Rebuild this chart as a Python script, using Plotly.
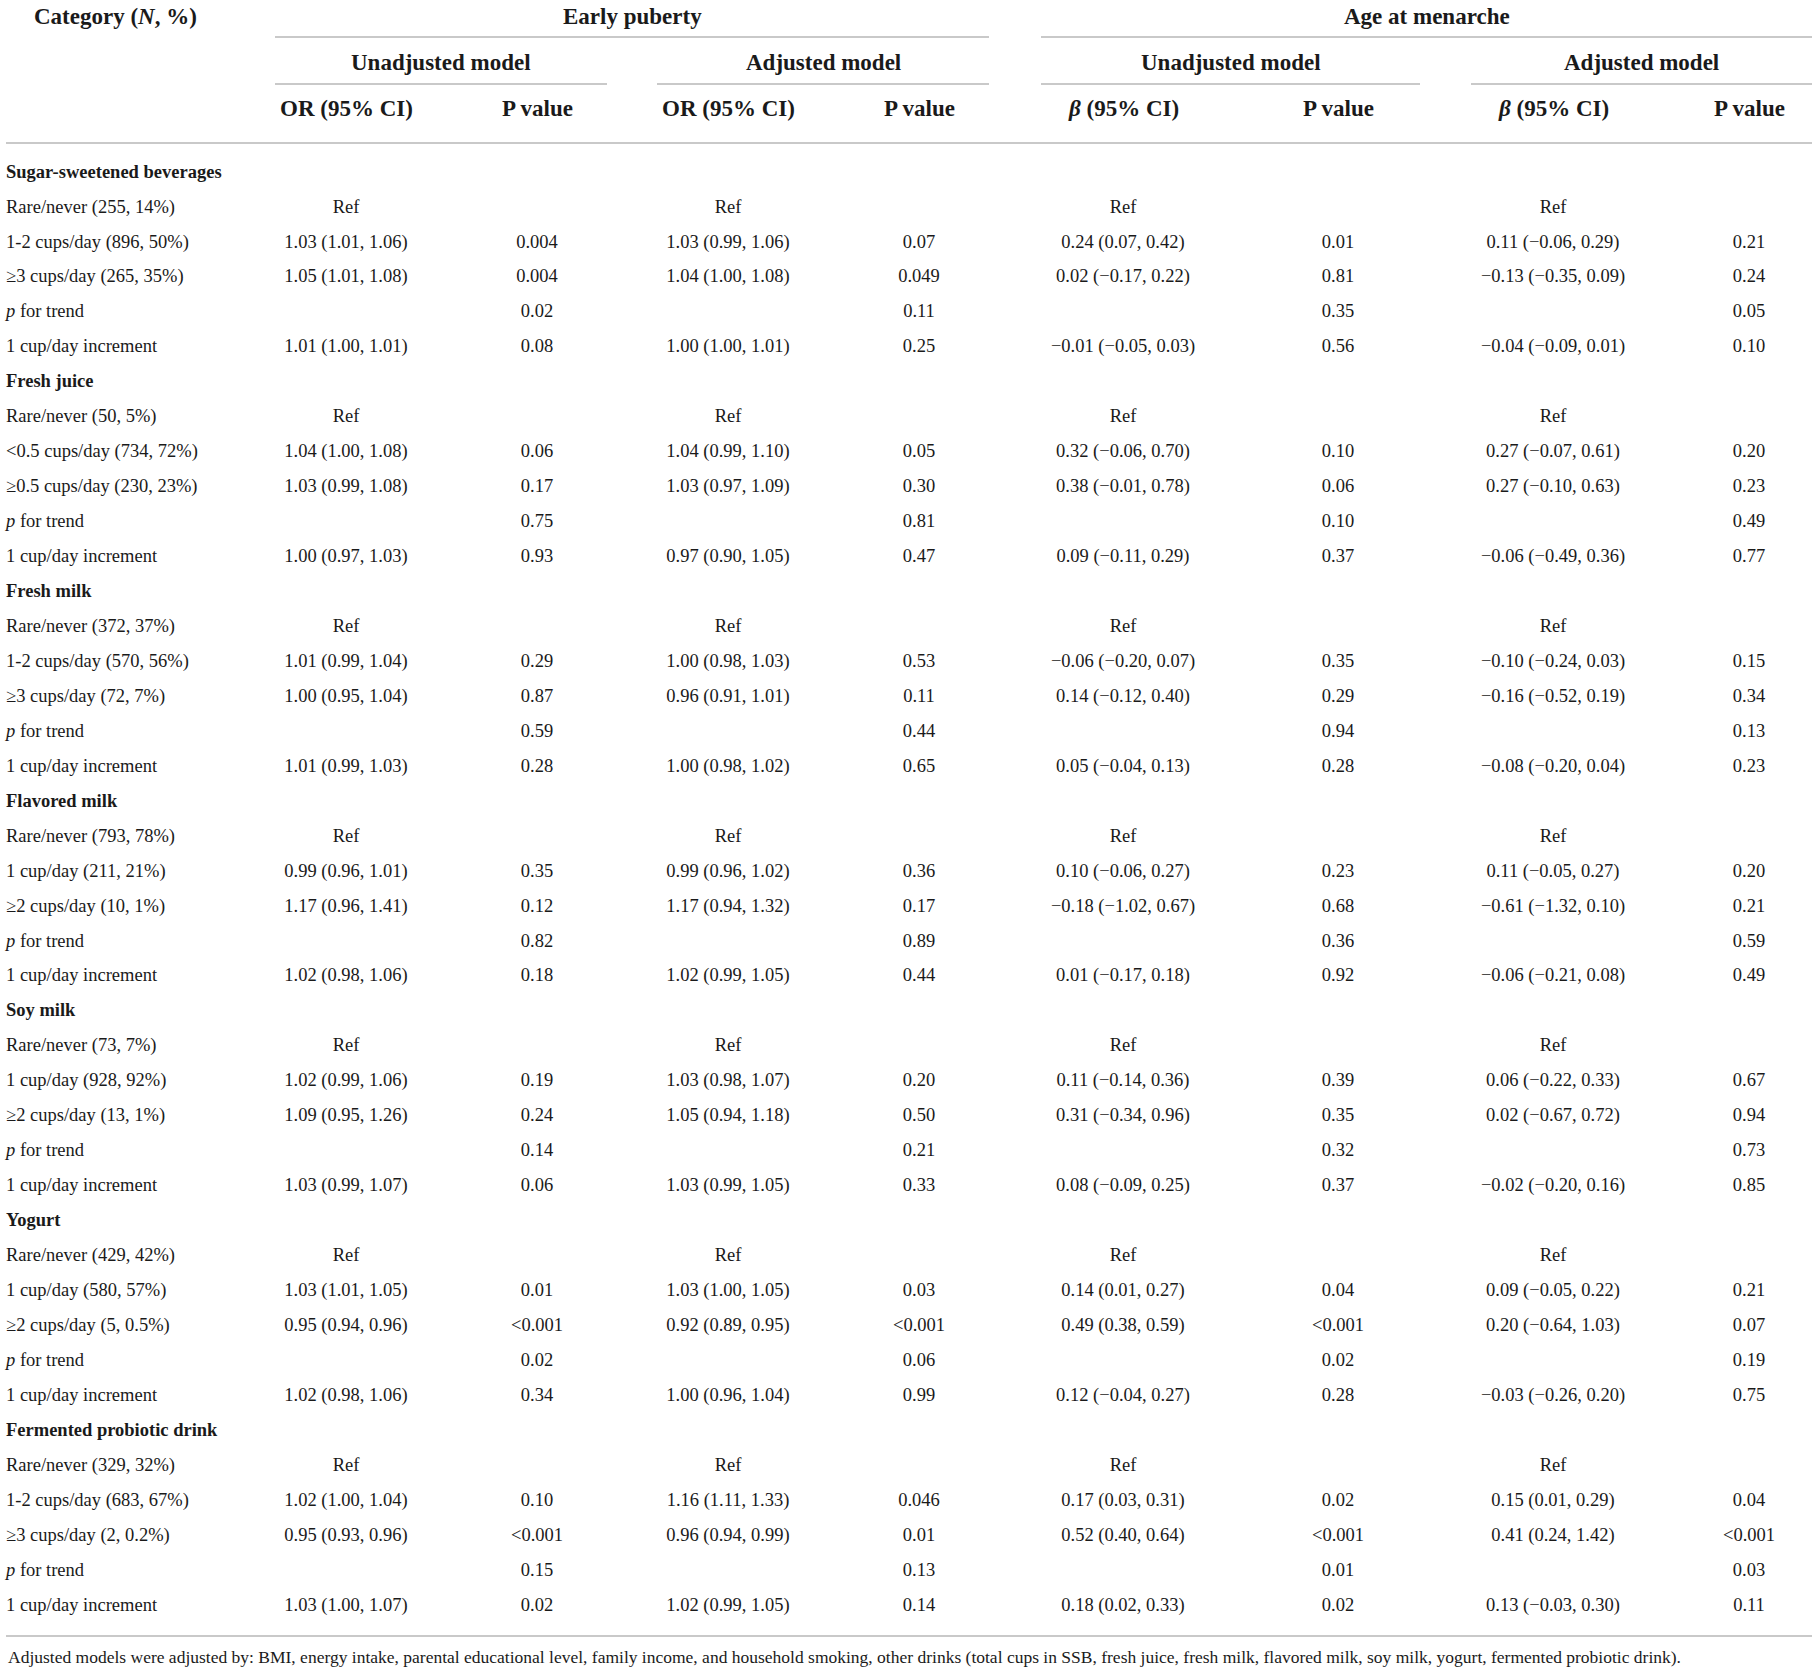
import plotly.graph_objects as go

# ---- table content -------------------------------------------------------
categories = [
    "Sugar-sweetened beverages", "Fresh juice", "Fresh milk", "Flavored milk",
    "Soy milk", "Yogurt", "Fermented probiotic drink",
]

row_labels = [
    "Sugar-sweetened beverages", "Rare/never (255, 14%)", "1-2 cups/day (896, 50%)",
    "≥3 cups/day (265, 35%)", "<i>p</i> for trend", "1 cup/day increment",
    "Fresh juice", "Rare/never (50, 5%)", "<0.5 cups/day (734, 72%)",
    "≥0.5 cups/day (230, 23%)", "<i>p</i> for trend", "1 cup/day increment",
    "Fresh milk", "Rare/never (372, 37%)", "1-2 cups/day (570, 56%)",
    "≥3 cups/day (72, 7%)", "<i>p</i> for trend", "1 cup/day increment",
    "Flavored milk", "Rare/never (793, 78%)", "1 cup/day (211, 21%)",
    "≥2 cups/day (10, 1%)", "<i>p</i> for trend", "1 cup/day increment",
    "Soy milk", "Rare/never (73, 7%)", "1 cup/day (928, 92%)",
    "≥2 cups/day (13, 1%)", "<i>p</i> for trend", "1 cup/day increment",
    "Yogurt", "Rare/never (429, 42%)", "1 cup/day (580, 57%)",
    "≥2 cups/day (5, 0.5%)", "<i>p</i> for trend", "1 cup/day increment",
    "Fermented probiotic drink", "Rare/never (329, 32%)", "1-2 cups/day (683, 67%)",
    "≥3 cups/day (2, 0.2%)", "<i>p</i> for trend", "1 cup/day increment",
]

or_unadj = [
    "", "Ref", "1.03 (1.01, 1.06)", "1.05 (1.01, 1.08)", "", "1.01 (1.00, 1.01)",
    "", "Ref", "1.04 (1.00, 1.08)", "1.03 (0.99, 1.08)", "", "1.00 (0.97, 1.03)",
    "", "Ref", "1.01 (0.99, 1.04)", "1.00 (0.95, 1.04)", "", "1.01 (0.99, 1.03)",
    "", "Ref", "0.99 (0.96, 1.01)", "1.17 (0.96, 1.41)", "", "1.02 (0.98, 1.06)",
    "", "Ref", "1.02 (0.99, 1.06)", "1.09 (0.95, 1.26)", "", "1.03 (0.99, 1.07)",
    "", "Ref", "1.03 (1.01, 1.05)", "0.95 (0.94, 0.96)", "", "1.02 (0.98, 1.06)",
    "", "Ref", "1.02 (1.00, 1.04)", "0.95 (0.93, 0.96)", "", "1.03 (1.00, 1.07)",
]
p_or_unadj = [
    "", "", "0.004", "0.004", "0.02", "0.08",
    "", "", "0.06", "0.17", "0.75", "0.93",
    "", "", "0.29", "0.87", "0.59", "0.28",
    "", "", "0.35", "0.12", "0.82", "0.18",
    "", "", "0.19", "0.24", "0.14", "0.06",
    "", "", "0.01", "<0.001", "0.02", "0.34",
    "", "", "0.10", "<0.001", "0.15", "0.02",
]
or_adj = [
    "", "Ref", "1.03 (0.99, 1.06)", "1.04 (1.00, 1.08)", "", "1.00 (1.00, 1.01)",
    "", "Ref", "1.04 (0.99, 1.10)", "1.03 (0.97, 1.09)", "", "0.97 (0.90, 1.05)",
    "", "Ref", "1.00 (0.98, 1.03)", "0.96 (0.91, 1.01)", "", "1.00 (0.98, 1.02)",
    "", "Ref", "0.99 (0.96, 1.02)", "1.17 (0.94, 1.32)", "", "1.02 (0.99, 1.05)",
    "", "Ref", "1.03 (0.98, 1.07)", "1.05 (0.94, 1.18)", "", "1.03 (0.99, 1.05)",
    "", "Ref", "1.03 (1.00, 1.05)", "0.92 (0.89, 0.95)", "", "1.00 (0.96, 1.04)",
    "", "Ref", "1.16 (1.11, 1.33)", "0.96 (0.94, 0.99)", "", "1.02 (0.99, 1.05)",
]
p_or_adj = [
    "", "", "0.07", "0.049", "0.11", "0.25",
    "", "", "0.05", "0.30", "0.81", "0.47",
    "", "", "0.53", "0.11", "0.44", "0.65",
    "", "", "0.36", "0.17", "0.89", "0.44",
    "", "", "0.20", "0.50", "0.21", "0.33",
    "", "", "0.03", "<0.001", "0.06", "0.99",
    "", "", "0.046", "0.01", "0.13", "0.14",
]
beta_unadj = [
    "", "Ref", "0.24 (0.07, 0.42)", "0.02 (−0.17, 0.22)", "", "−0.01 (−0.05, 0.03)",
    "", "Ref", "0.32 (−0.06, 0.70)", "0.38 (−0.01, 0.78)", "", "0.09 (−0.11, 0.29)",
    "", "Ref", "−0.06 (−0.20, 0.07)", "0.14 (−0.12, 0.40)", "", "0.05 (−0.04, 0.13)",
    "", "Ref", "0.10 (−0.06, 0.27)", "−0.18 (−1.02, 0.67)", "", "0.01 (−0.17, 0.18)",
    "", "Ref", "0.11 (−0.14, 0.36)", "0.31 (−0.34, 0.96)", "", "0.08 (−0.09, 0.25)",
    "", "Ref", "0.14 (0.01, 0.27)", "0.49 (0.38, 0.59)", "", "0.12 (−0.04, 0.27)",
    "", "Ref", "0.17 (0.03, 0.31)", "0.52 (0.40, 0.64)", "", "0.18 (0.02, 0.33)",
]
p_beta_unadj = [
    "", "", "0.01", "0.81", "0.35", "0.56",
    "", "", "0.10", "0.06", "0.10", "0.37",
    "", "", "0.35", "0.29", "0.94", "0.28",
    "", "", "0.23", "0.68", "0.36", "0.92",
    "", "", "0.39", "0.35", "0.32", "0.37",
    "", "", "0.04", "<0.001", "0.02", "0.28",
    "", "", "0.02", "<0.001", "0.01", "0.02",
]
beta_adj = [
    "", "Ref", "0.11 (−0.06, 0.29)", "−0.13 (−0.35, 0.09)", "", "−0.04 (−0.09, 0.01)",
    "", "Ref", "0.27 (−0.07, 0.61)", "0.27 (−0.10, 0.63)", "", "−0.06 (−0.49, 0.36)",
    "", "Ref", "−0.10 (−0.24, 0.03)", "−0.16 (−0.52, 0.19)", "", "−0.08 (−0.20, 0.04)",
    "", "Ref", "0.11 (−0.05, 0.27)", "−0.61 (−1.32, 0.10)", "", "−0.06 (−0.21, 0.08)",
    "", "Ref", "0.06 (−0.22, 0.33)", "0.02 (−0.67, 0.72)", "", "−0.02 (−0.20, 0.16)",
    "", "Ref", "0.09 (−0.05, 0.22)", "0.20 (−0.64, 1.03)", "", "−0.03 (−0.26, 0.20)",
    "", "Ref", "0.15 (0.01, 0.29)", "0.41 (0.24, 1.42)", "", "0.13 (−0.03, 0.30)",
]
p_beta_adj = [
    "", "", "0.21", "0.24", "0.05", "0.10",
    "", "", "0.20", "0.23", "0.49", "0.77",
    "", "", "0.15", "0.34", "0.13", "0.23",
    "", "", "0.20", "0.21", "0.59", "0.49",
    "", "", "0.67", "0.94", "0.73", "0.85",
    "", "", "0.21", "0.07", "0.19", "0.75",
    "", "", "0.04", "<0.001", "0.03", "0.11",
]

group_titles = ["Early puberty", "Age at menarche"]
model_titles = ["Unadjusted model", "Adjusted model", "Unadjusted model", "Adjusted model"]
col_titles = ["OR (95% CI)", "P value", "OR (95% CI)", "P value",
              "<i>β</i> (95% CI)", "P value", "<i>β</i> (95% CI)", "P value"]
footnote = ("Adjusted models were adjusted by: BMI, energy intake, parental educational level, "
            "family income, and household smoking, other drinks (total cups in SSB, fresh juice, "
            "fresh milk, flavored milk, soy milk, yogurt, fermented probiotic drink).")

# ---- layout (page pixel units) ------------------------------------------
W, H = 1816, 1671
FONT = "Liberation Serif, Times New Roman, serif"
INK = "#1a1a1a"
RULE = "#c9c9c9"
LABEL_X = 6
HEAD_LABEL_X = 32
COL_X = [346, 537, 728, 919, 1123, 1338, 1553, 1749]
GROUP_SPAN = [(275, 989), (1041, 1812)]
MODEL_SPAN = [(275, 607), (657, 989), (1041, 1420), (1471, 1812)]
FIRST_ROW_Y = 173
ROW_STEP = 34.95

row_y = [FIRST_ROW_Y + i * ROW_STEP for i in range(len(row_labels))]

fig = go.Figure()

label_text = [f"<b>{t}</b>" if t in categories else t for t in row_labels]
fig.add_trace(go.Scatter(
    x=[LABEL_X] * len(row_y), y=row_y, text=label_text, mode="text",
    textposition="middle right", textfont=dict(family=FONT, size=18.5, color=INK),
    hoverinfo="skip", showlegend=False, cliponaxis=False,
))

columns = [or_unadj, p_or_unadj, or_adj, p_or_adj,
           beta_unadj, p_beta_unadj, beta_adj, p_beta_adj]
for cx, values in zip(COL_X, columns):
    fig.add_trace(go.Scatter(
        x=[cx] * len(row_y), y=row_y, text=values, mode="text",
        textposition="middle center", textfont=dict(family=FONT, size=18.5, color=INK),
        hoverinfo="skip", showlegend=False, cliponaxis=False,
    ))

head_font = dict(family=FONT, size=23, color=INK)
annotations = [dict(x=HEAD_LABEL_X, y=16, text="<b>Category (<i>N</i>, %)</b>",
                    xanchor="left", font=head_font)]
for (x0, x1), t in zip(GROUP_SPAN, group_titles):
    annotations.append(dict(x=(x0 + x1) / 2, y=16, text=f"<b>{t}</b>", font=head_font))
for (x0, x1), t in zip(MODEL_SPAN, model_titles):
    annotations.append(dict(x=(x0 + x1) / 2, y=62, text=f"<b>{t}</b>", font=head_font))
for cx, t in zip(COL_X, col_titles):
    annotations.append(dict(x=cx, y=108, text=f"<b>{t}</b>", font=head_font))
annotations.append(dict(x=LABEL_X, y=1657, text=footnote, xanchor="left",
                        font=dict(family=FONT, size=17.5, color=INK)))
for a in annotations:
    a.update(xref="x", yref="y", showarrow=False, yanchor="middle")
    a.setdefault("xanchor", "center")

shapes = []
for x0, x1 in GROUP_SPAN:
    shapes.append(dict(x0=x0, x1=x1, y0=37, y1=37))
for x0, x1 in MODEL_SPAN:
    shapes.append(dict(x0=x0, x1=x1, y0=84, y1=84))
shapes.append(dict(x0=6, x1=1812, y0=143, y1=143))
shapes.append(dict(x0=6, x1=1812, y0=1636, y1=1636))
for s in shapes:
    s.update(type="line", xref="x", yref="y", line=dict(color=RULE, width=2))

fig.update_layout(
    width=W, height=H,
    margin=dict(l=0, r=0, t=0, b=0),
    paper_bgcolor="white", plot_bgcolor="white",
    annotations=annotations, shapes=shapes,
    xaxis=dict(range=[0, W], visible=False, fixedrange=True),
    yaxis=dict(range=[H, 0], visible=False, fixedrange=True),
)

# page has a default body margin; drop it so the figure fills the window
fig.write_html("out.html", config={"displayModeBar": False},
               post_script="document.body.style.margin = '0';")
